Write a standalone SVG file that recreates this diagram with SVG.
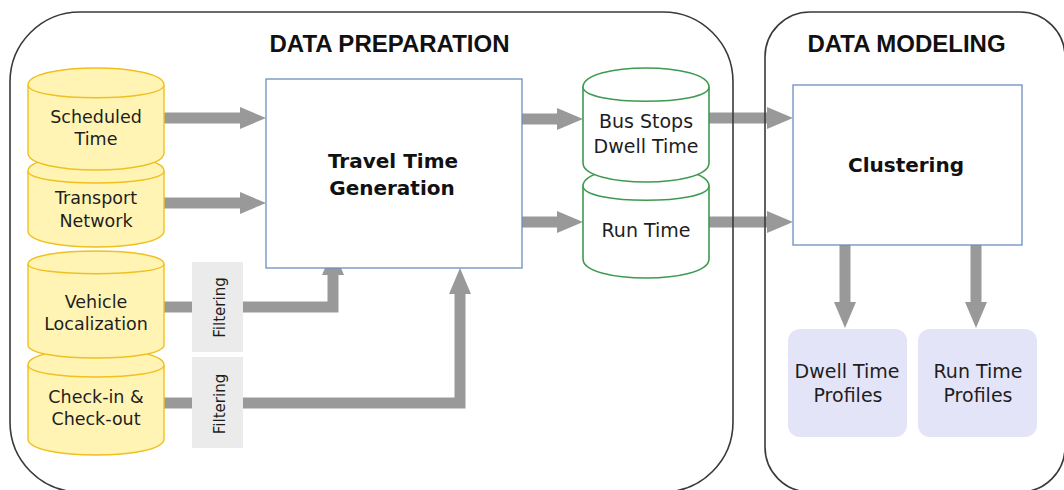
<svg xmlns="http://www.w3.org/2000/svg" width="1064" height="490" viewBox="0 0 1064 490">
  <defs>
    <style>
      .lane { fill: none; stroke: #3a3a3a; stroke-width: 1.6; }
      .lane-title { font-family: "Liberation Sans", Arial, sans-serif; font-weight: bold; font-size: 24px; fill: #111; text-anchor: middle; }
      .db-y { fill: #fff4b3; stroke: #f0c020; stroke-width: 1.4; }
      .db-g { fill: #ffffff; stroke: #3d9a50; stroke-width: 1.6; }
      .proc { fill: #ffffff; stroke: #6c8ebf; stroke-width: 1.3; }
      .filter { fill: #ebebeb; stroke: none; }
      .profile { fill: #e4e4f8; stroke: none; }
      .lbl { font-family: "DejaVu Sans", "Liberation Sans", sans-serif; fill: #1e1e1e; text-anchor: middle; }
      .lbl-y { font-size: 17.5px; }
      .lbl-g { font-size: 19px; }
      .lbl-f { font-size: 15px; }
      .lbl-b { font-size: 20px; font-weight: bold; fill: #111; }
      .flow { fill: none; stroke: #999999; stroke-width: 11; stroke-linecap: butt; stroke-linejoin: miter; marker-end: url(#head); }
    </style>
    <marker id="head" markerUnits="userSpaceOnUse" markerWidth="26" markerHeight="22" refX="0" refY="11" orient="auto" overflow="visible">
      <path d="M0,0 L26,11 L0,22 Z" fill="#999999"/>
    </marker>
  </defs>

  <rect width="1064" height="490" fill="#ffffff"/>

  <!-- data flows -->
  <g id="connectors">
    <path class="flow" d="M164,118 H240"/>
    <path class="flow" d="M164,203 H240"/>
    <path class="flow" d="M164,307 H333 V275"/>
    <path class="flow" d="M164,403 H460 V294"/>
    <path class="flow" d="M522,119 H557"/>
    <path class="flow" d="M522,222 H557"/>
    <path class="flow" d="M709,118 H767"/>
    <path class="flow" d="M709,222 H767"/>
    <path class="flow" d="M845,245 V302"/>
    <path class="flow" d="M976,245 V302"/>
  </g>

  <!-- swimlanes -->
  <g id="lane-preparation">
    <rect class="lane" x="10" y="12" width="723" height="480" rx="70" ry="70"/>
    <text class="lane-title" x="389.5" y="52">DATA PREPARATION</text>
  </g>
  <g id="lane-modeling">
    <rect class="lane" x="765" y="12" width="300" height="480" rx="45" ry="45"/>
    <text class="lane-title" x="906.5" y="52">DATA MODELING</text>
  </g>

  <!-- input data stores (lower ones drawn first so the upper ones overlap them) -->
  <g id="transport-network">
    <path class="db-y" d="M28,171 C28,149.67 164,149.67 164,171 L164,231 C164,252.33 28,252.33 28,231 Z"/>
    <path class="db-y" fill="none" d="M28,171 C28,187 164,187 164,171"/>
    <text class="lbl lbl-y" x="96" y="204">Transport</text>
    <text class="lbl lbl-y" x="96" y="227">Network</text>
  </g>
  <g id="scheduled-time">
    <path class="db-y" d="M28,85 C28,62.33 164,62.33 164,85 L164,153 C164,175.67 28,175.67 28,153 Z"/>
    <path class="db-y" fill="none" d="M28,85 C28,102 164,102 164,85"/>
    <text class="lbl lbl-y" x="96" y="123">Scheduled</text>
    <text class="lbl lbl-y" x="96" y="145">Time</text>
  </g>
  <g id="check-in-out">
    <path class="db-y" d="M28,365 C28,343.67 164,343.67 164,365 L164,439 C164,460.33 28,460.33 28,439 Z"/>
    <path class="db-y" fill="none" d="M28,365 C28,381 164,381 164,365"/>
    <text class="lbl lbl-y" x="96" y="403">Check-in &amp;</text>
    <text class="lbl lbl-y" x="96" y="425">Check-out</text>
  </g>
  <g id="vehicle-localization">
    <path class="db-y" d="M28,264 C28,246.67 164,246.67 164,264 L164,345 C164,362.33 28,362.33 28,345 Z"/>
    <path class="db-y" fill="none" d="M28,264 C28,277 164,277 164,264"/>
    <text class="lbl lbl-y" x="96" y="308">Vehicle</text>
    <text class="lbl lbl-y" x="96" y="330">Localization</text>
  </g>

  <!-- filters -->
  <g id="filter-vehicle">
    <rect class="filter" x="192" y="262" width="51" height="90"/>
    <text class="lbl lbl-f" x="225" y="307.5" transform="rotate(-90 225 307.5)">Filtering</text>
  </g>
  <g id="filter-checkin">
    <rect class="filter" x="192" y="357" width="51" height="91"/>
    <text class="lbl lbl-f" x="225" y="404" transform="rotate(-90 225 404)">Filtering</text>
  </g>

  <!-- processing -->
  <g id="travel-time-generation">
    <rect class="proc" x="266" y="79" width="256" height="189"/>
    <text class="lbl lbl-b" x="393" y="168">Travel Time</text>
    <text class="lbl lbl-b" x="392" y="195">Generation</text>
  </g>

  <!-- derived data stores -->
  <g id="run-time">
    <path class="db-g" d="M583,186 C583,160.67 709,160.67 709,186 L709,259 C709,284.33 583,284.33 583,259 Z"/>
    <path class="db-g" fill="none" d="M583,186 C583,205 709,205 709,186"/>
    <text class="lbl lbl-g" x="646" y="237">Run Time</text>
  </g>
  <g id="dwell-time">
    <path class="db-g" d="M583,87 C583,61.67 709,61.67 709,87 L709,163 C709,188.33 583,188.33 583,163 Z"/>
    <path class="db-g" fill="none" d="M583,87 C583,106 709,106 709,87"/>
    <text class="lbl lbl-g" x="646" y="128">Bus Stops</text>
    <text class="lbl lbl-g" x="646" y="153">Dwell Time</text>
  </g>

  <!-- modeling -->
  <g id="clustering">
    <rect class="proc" x="793" y="85" width="229" height="160"/>
    <text class="lbl lbl-b" x="906" y="172">Clustering</text>
  </g>
  <g id="dwell-time-profiles">
    <rect class="profile" x="788" y="329" width="119" height="108" rx="12" ry="12"/>
    <text class="lbl lbl-g" x="847" y="378">Dwell Time</text>
    <text class="lbl lbl-g" x="848" y="402">Profiles</text>
  </g>
  <g id="run-time-profiles">
    <rect class="profile" x="918" y="329" width="119" height="108" rx="12" ry="12"/>
    <text class="lbl lbl-g" x="978" y="378">Run Time</text>
    <text class="lbl lbl-g" x="978" y="402">Profiles</text>
  </g>
</svg>
